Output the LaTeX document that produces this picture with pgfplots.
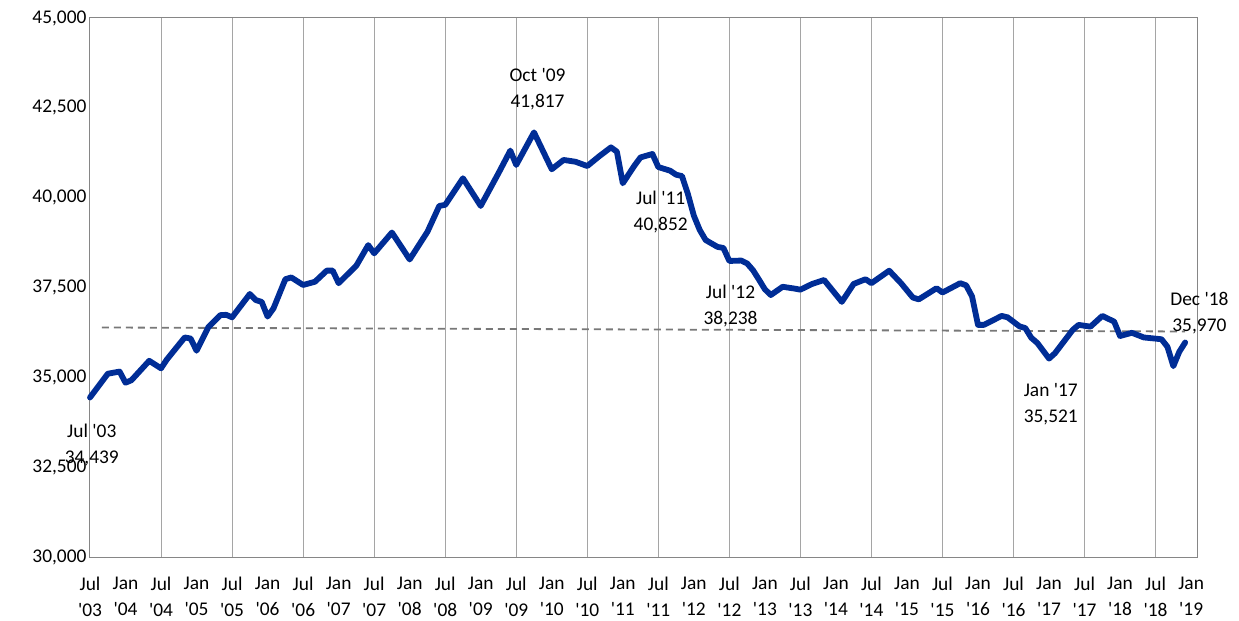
\documentclass[border=0pt]{standalone}
\usepackage{pgfplots}
\pgfplotsset{compat=1.18}
\usepackage{fontspec}
\setmainfont{Carlito}
\definecolor{lineblue}{RGB}{0,45,150}
\definecolor{gridgray}{RGB}{165,165,165}
\definecolor{axisgray}{RGB}{134,134,134}
\definecolor{trendgray}{RGB}{120,120,120}
\newcommand{\ap}{\textquotesingle}
\newcommand{\lblfont}{\fontsize{19.4bp}{25.5bp}\selectfont}
\begin{document}
\begin{tikzpicture}
\path[use as bounding box] (-90bp,-64bp) rectangle (1149bp,557bp);
\begin{axis}[
  at={(0,0)}, anchor=south west,
  scale only axis, width=1107bp, height=539bp,
  xmin=0, xmax=187, ymin=30000, ymax=45000,
  scaled y ticks=false, scaled x ticks=false,
  axis line style={draw=axisgray, line width=1bp},
  major tick length=0pt, minor tick length=0pt,
  tick style={draw=none},
  xtick={0,6,...,186},
  xticklabels={Jul\\\ap03, Jan\\\ap04, Jul\\\ap04, Jan\\\ap05, Jul\\\ap05, Jan\\\ap06, Jul\\\ap06, Jan\\\ap07, Jul\\\ap07, Jan\\\ap08, Jul\\\ap08, Jan\\\ap09, Jul\\\ap09, Jan\\\ap10, Jul\\\ap10, Jan\\\ap11, Jul\\\ap11, Jan\\\ap12, Jul\\\ap12, Jan\\\ap13, Jul\\\ap13, Jan\\\ap14, Jul\\\ap14, Jan\\\ap15, Jul\\\ap15, Jan\\\ap16, Jul\\\ap16, Jan\\\ap17, Jul\\\ap17, Jan\\\ap18, Jul\\\ap18, Jan\\\ap19},
  xticklabel style={align=center, font=\lblfont, yshift=-17bp},
  ytick={30000,32500,...,45000},
  yticklabels={{30,000},{32,500},{35,000},{37,500},{40,000},{42,500},{45,000}},
  yticklabel style={font=\lblfont},
  extra x ticks={12,24,...,180},
  extra x tick labels={},
  extra x tick style={grid=major, major grid style={draw=gridgray, line width=1bp}, tick style={draw=none}},
  clip=false,
]
\addplot[trendgray, line width=1.8bp, dash pattern=on 7bp off 5bp] coordinates {(2,36387) (185,36276)};
\addplot[lineblue, line width=5.8bp, line join=round, line cap=round] coordinates {
(0,34439) (2,34880) (3,35100) (5,35160) (6,34850) (7,34920) (10,35460) (12,35250)
(13,35500) (16,36110) (17,36080) (18,35740) (20,36400) (22,36730) (23,36740) (24,36670)
(27,37320) (28,37150) (29,37100) (30,36690) (31,36920) (33,37730) (34,37780) (36,37570)
(38,37660) (40,37970) (41,37970) (42,37620) (45,38110) (47,38680) (48,38450) (51,39030)
(54,38280) (57,39050) (59,39770) (60,39800) (63,40540) (66,39770) (69,40680) (71,41310)
(72,40910) (75,41817) (78,40790) (80,41050) (82,41000) (84,40880) (86,41150) (88,41400)
(89,41280) (90,40400) (91,40650) (92,40900) (93,41120) (95,41216) (96,40852) (98,40750)
(99,40640) (100,40600) (101,40100) (102,39500) (103,39100) (104,38820) (106,38630) (107,38600)
(108,38238) (110,38250) (111,38170) (112,37980) (113,37720) (114,37450) (115,37290) (117,37520)
(119,37470) (120,37440) (122,37600) (124,37710) (127,37100) (129,37600) (131,37730) (132,37620)
(135,37968) (137,37620) (139,37220) (140,37170) (143,37480) (144,37360) (147,37620) (148,37560)
(149,37250) (150,36460) (151,36460) (154,36710) (155,36670) (157,36420) (158,36370) (159,36100)
(160,35960) (162,35521) (163,35670) (166,36320) (167,36460) (169,36410) (171,36710) (173,36550)
(174,36150) (176,36240) (178,36110) (181,36060) (182,35850) (183,35310) (184,35710) (185,35970)
};
\node[align=center, font=\lblfont] at (axis cs:0.3,33117) {Jul \ap03\\34,439};
\node[align=center, font=\lblfont] at (axis cs:75.6,43024) {Oct \ap09\\41,817};
\node[align=center, font=\lblfont] at (axis cs:96.4,39601) {Jul \ap11\\40,852};
\node[align=center, font=\lblfont] at (axis cs:108.2,36985) {Jul \ap12\\38,238};
\node[align=center, font=\lblfont] at (axis cs:162.3,34258) {Jan \ap17\\35,521};
\node[align=center, font=\lblfont] at (axis cs:187.4,36791) {Dec \ap18\\35,970};
\end{axis}
\end{tikzpicture}
\end{document}
